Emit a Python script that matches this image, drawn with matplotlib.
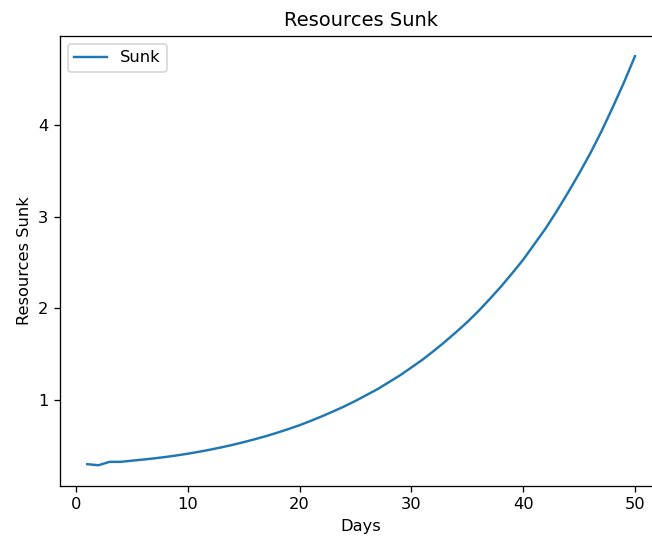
import numpy as np
from matplotlib import pyplot as plt

days = list(range(1, 51))
sunk = [0.300, 0.288, 0.325, 0.325, 0.338, 0.350, 0.363, 0.378, 0.395, 0.414,
        0.435, 0.458, 0.483, 0.510, 0.540, 0.572, 0.606, 0.643, 0.683, 0.725,
        0.772, 0.822, 0.875, 0.930, 0.990, 1.055, 1.120, 1.195, 1.270, 1.355,
        1.440, 1.535, 1.635, 1.740, 1.850, 1.970, 2.100, 2.235, 2.380, 2.530,
        2.700, 2.870, 3.060, 3.260, 3.470, 3.690, 3.930, 4.190, 4.460, 4.750]

fig = plt.figure(figsize=(652 / 117, 537 / 117), dpi=117)
ax = fig.add_axes([59.8 / 652, 51.3 / 537, 602.6 / 652, 450 / 537])

ax.plot(days, sunk, label="Sunk")
ax.set_title("Resources Sunk")
ax.set_xlabel("Days")
ax.set_ylabel("Resources Sunk")
ax.legend()

fig.savefig("out.png", dpi=117)
